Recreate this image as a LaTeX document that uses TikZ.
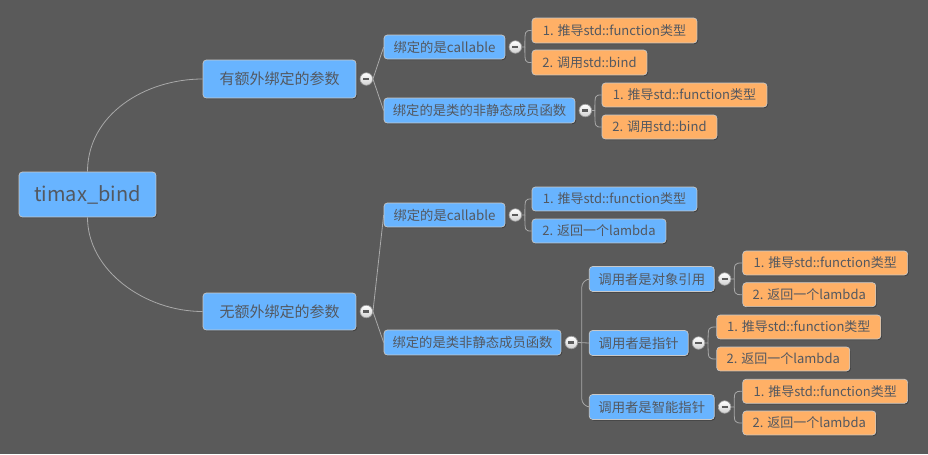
\documentclass[tikz,border=0pt]{standalone}
\usepackage{fontspec}
\setmainfont{Noto Sans CJK SC}
\usetikzlibrary{shadows}

\definecolor{bg}{HTML}{5A5A5A}
\definecolor{nodeblue}{HTML}{68B4FF}
\definecolor{nodeorange}{HTML}{FFB066}
\definecolor{rim}{HTML}{C9C9C9}
\definecolor{ink}{HTML}{535860}
\definecolor{wire}{HTML}{A9A9A9}
\definecolor{knobrim}{HTML}{9A9A9A}
\definecolor{knobbar}{HTML}{5C5C5C}

\tikzset{
  bw/.style={minimum width=#1*0.75pt},
  bh/.style={minimum height=#1*0.75pt},
  box/.style={rectangle, rounded corners=2.5pt, draw=rim, line width=0.5pt,
    text=ink, inner sep=0pt, align=center,
    drop shadow={shadow xshift=0.8pt, shadow yshift=-0.8pt, opacity=0.3, fill=black}},
  rootbox/.style={box, fill=nodeblue, font=\fontsize{15}{18}\selectfont},
  mainbox/.style={box, fill=nodeblue, font=\fontsize{11.25}{13}\selectfont},
  subbox/.style={box, fill=nodeblue, font=\fontsize{10}{12}\selectfont},
  leafblue/.style={box, fill=nodeblue, font=\fontsize{9.75}{12}\selectfont},
  leaforange/.style={box, fill=nodeorange, font=\fontsize{9.75}{12}\selectfont},
  knob/.style={circle, minimum size=9.4pt, inner sep=0pt, draw=knobrim, line width=0.5pt,
    top color=white, bottom color=black!18,
    path picture={\draw[knobbar, line width=1.6pt]
      ([xshift=-2.3pt]path picture bounding box.center) --
      ([xshift=2.3pt]path picture bounding box.center);}},
  link/.style={draw=wire, line width=0.6pt},
}

\begin{document}
\begin{tikzpicture}[x=0.75pt, y=-0.75pt]
  % canvas
  \path[fill=bg, use as bounding box] (0,0) rectangle (928,454);

  % root and first level
  \node[rootbox, bw=137, bh=45] (root) at (87.5,194.5) {timax\_bind};
  \node[mainbox, bw=153, bh=38] (a1) at (279.5,79) {有额外绑定的参数};
  \node[mainbox, bw=153, bh=37] (a2) at (279.5,311.5) {无额外绑定的参数};

  % second level
  \node[subbox, bw=121, bh=24] (b1) at (444.5,47) {绑定的是callable};
  \node[subbox, bw=191, bh=25] (b2) at (479.5,110.5) {绑定的是类的非静态成员函数};
  \node[subbox, bw=121, bh=24] (b3) at (444.5,215) {绑定的是callable};
  \node[subbox, bw=177, bh=25] (b4) at (472.5,342.5) {绑定的是类非静态成员函数};

  % leaves under the upper branch
  \node[leaforange, bw=165, bh=25] (c1) at (614.5,30.5) {1. 推导std::function类型};
  \node[leaforange, bw=115, bh=25] (c2) at (589.5,62.5) {2. 调用std::bind};
  \node[leaforange, bw=165, bh=24] (c3) at (684.5,95) {1. 推导std::function类型};
  \node[leaforange, bw=115, bh=24] (c4) at (659.5,127) {2. 调用std::bind};

  % leaves under the lower callable
  \node[leafblue, bw=165, bh=24] (c5) at (614.5,199) {1. 推导std::function类型};
  \node[leafblue, bw=134, bh=24] (c6) at (599,231) {2. 返回一个lambda};

  % callers
  \node[subbox, bw=125, bh=25] (d1) at (651.8,279) {调用者是对象引用};
  \node[subbox, bw=99, bh=25] (d2) at (638.7,343) {调用者是指针};
  \node[subbox, bw=125, bh=25] (d3) at (651.8,407) {调用者是智能指针};

  % leaves under the callers
  \node[leaforange, bw=165, bh=24] (e1) at (825.2,263) {1. 推导std::function类型};
  \node[leaforange, bw=133, bh=24] (e2) at (809.3,294.7) {2. 返回一个lambda};
  \node[leaforange, bw=164, bh=24] (e3) at (798.8,327) {1. 推导std::function类型};
  \node[leaforange, bw=133, bh=24] (e4) at (783.3,359) {2. 返回一个lambda};
  \node[leaforange, bw=165, bh=24] (e5) at (825.2,391.3) {1. 推导std::function类型};
  \node[leaforange, bw=133, bh=24] (e6) at (809.3,423) {2. 返回一个lambda};

  % collapse knobs
  \foreach \n in {a1,a2,b1,b2,b3,b4,d1,d2,d3}
    \node[knob] (k-\n) at ([xshift=7.5pt]\n.east) {};

  % junction points of the forks
  \foreach \n in {b1,b2,b3,d1,d2,d3}
    \coordinate (j-\n) at ([xshift=2.2pt]k-\n.east);
  \coordinate (j-b4) at ([xshift=2.8pt]k-b4.east);

  % root to first level
  \draw[link] (root.north) .. controls +(0,-57) and +(-58,0) .. (a1.west);
  \draw[link] (root.south) .. controls +(0,53) and +(-58,0) .. (a2.west);

  % first level to second level
  \draw[link] (k-a1.east) -- (b1.west);
  \draw[link] (k-a1.east) -- (b2.west);
  \draw[link] (k-a2.east) -- (b3.west);
  \draw[link] (k-a2.east) -- (b4.west);

  % two-way forks
  \draw[link] (k-b1.east) -- (j-b1) .. controls (j-b1 |- c1.west) .. (c1.west);
  \draw[link] (j-b1) .. controls (j-b1 |- c2.west) .. (c2.west);
  \draw[link] (k-b2.east) -- (j-b2) .. controls (j-b2 |- c3.west) .. (c3.west);
  \draw[link] (j-b2) .. controls (j-b2 |- c4.west) .. (c4.west);
  \draw[link] (k-b3.east) -- (j-b3) .. controls (j-b3 |- c5.west) .. (c5.west);
  \draw[link] (j-b3) .. controls (j-b3 |- c6.west) .. (c6.west);
  \draw[link] (k-d1.east) -- (j-d1) .. controls (j-d1 |- e1.west) .. (e1.west);
  \draw[link] (j-d1) .. controls (j-d1 |- e2.west) .. (e2.west);
  \draw[link] (k-d2.east) -- (j-d2) .. controls (j-d2 |- e3.west) .. (e3.west);
  \draw[link] (j-d2) .. controls (j-d2 |- e4.west) .. (e4.west);
  \draw[link] (k-d3.east) -- (j-d3) .. controls (j-d3 |- e5.west) .. (e5.west);
  \draw[link] (j-d3) .. controls (j-d3 |- e6.west) .. (e6.west);

  % three-way fork to the callers
  \draw[link] (k-b4.east) -- (d2.west);
  \draw[link, rounded corners=6.5pt] (j-b4) |- (d1.west);
  \draw[link, rounded corners=6.5pt] (j-b4) |- (d3.west);
\end{tikzpicture}
\end{document}
